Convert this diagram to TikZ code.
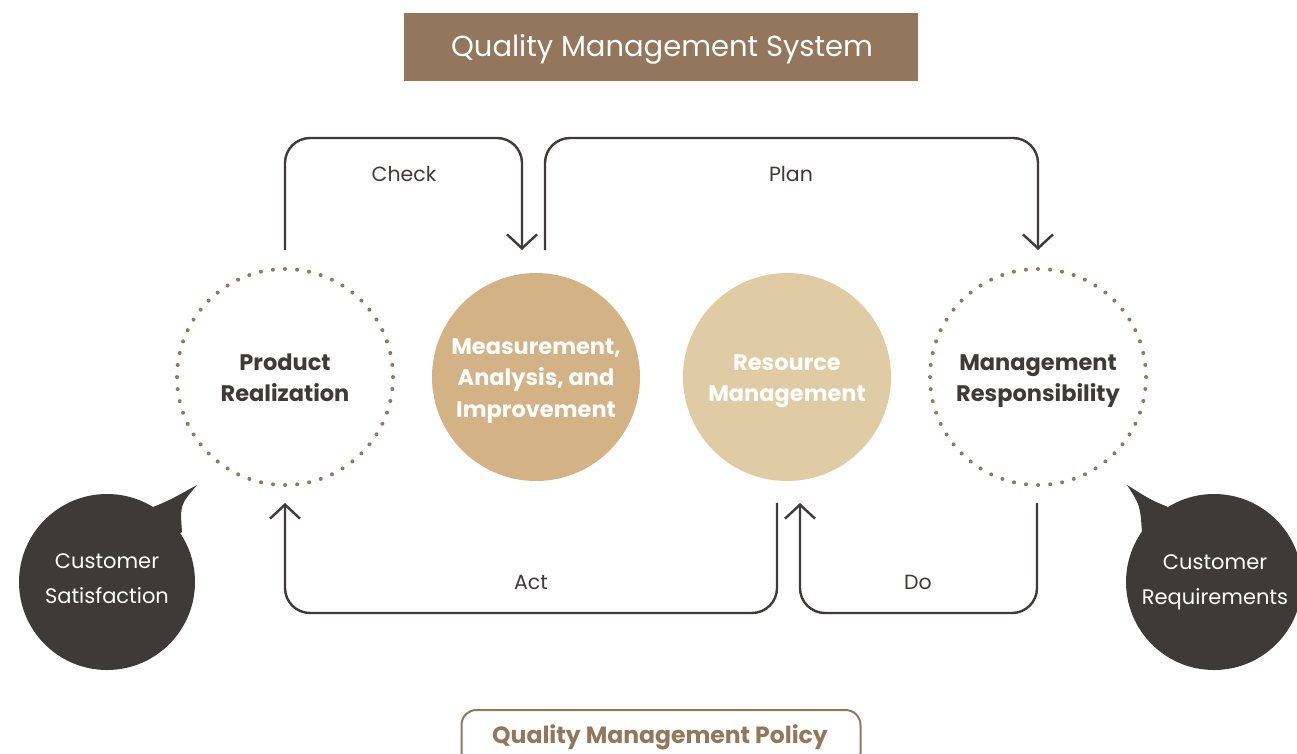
\documentclass[tikz,border=0pt]{standalone}
\usepackage{fontspec}
\setmainfont{Poppins}
\usetikzlibrary{arrows.meta}
\definecolor{brownA}{HTML}{92775C}
\definecolor{darkA}{HTML}{3E3A39}
\definecolor{goldA}{HTML}{D3B385}
\definecolor{goldB}{HTML}{DFCCA5}
\begin{document}
\begin{tikzpicture}[x=1pt,y=-1pt,
  conn/.style={draw=darkA, line width=2.4pt, rounded corners=25pt,
    -{Straight Barb[length=14pt,width=30pt,line width=2.4pt]}},
  lbl/.style={text=darkA, font=\fontsize{20.5}{24}\selectfont},
  dotcirc/.style={circle, minimum size=216pt, draw=brownA, line width=4pt,
    line cap=round, dash pattern=on 0pt off 12.12pt},
  fillcirc/.style={circle, minimum size=208pt},
  ctext/.style={align=center, font=\bfseries\fontsize{22.5}{31.5}\selectfont},
  bubble/.style={circle, fill=darkA, minimum size=176pt},
  btext/.style={align=center, text=white, font=\fontsize{21}{35}\selectfont}]
\useasboundingbox (0,0) rectangle (1297,753);

% title
\node[fill=brownA, minimum width=514pt, minimum height=68pt] (title) at (661,47) {};
\node[text=white, font=\fontsize{29}{34}\selectfont] (titleText) at (662,49) {Quality Management System};

% circles
\node[dotcirc] (pr) at (285,377) {};
\node[fillcirc, fill=goldA] (mai) at (536,377) {};
\node[fillcirc, fill=goldB] (rm) at (787,377) {};
\node[dotcirc] (mr) at (1038,377) {};
\node[ctext, text=darkA] (prT) at (285,378) {Product\\Realization};
\node[ctext, text=white] (maiT) at (536,381) {Measurement,\\Analysis, and\\Improvement};
\node[ctext, text=white] (rmT) at (787,381) {Resource\\Management};
\node[ctext, text=darkA] (mrT) at (1038,381) {Management\\Responsibility};

% speech bubbles
\coordinate (csTip) at (197,485);
\coordinate (crTip) at (1127,485);
\fill[darkA] (153,507) .. controls (170,500) .. (csTip) .. controls (180,505) .. (182,532) -- (170,540) -- cycle;
\fill[darkA] (1168,507) .. controls (1151,500) .. (crTip) .. controls (1140,505) .. (1142,532) -- (1154,540) -- cycle;
\node[bubble] (cs) at (107,582) {};
\node[bubble] (cr) at (1214,582) {};
\node[btext] (csT) at (107,579) {Customer\\Satisfaction};
\node[btext] (crT) at (1215,582) {Customer\\Requirements};

% connector coordinates
\coordinate (top) at (0,138);
\coordinate (bot) at (0,613);
\coordinate (chkS) at (285,250);
\coordinate (chkE) at (522,250);
\coordinate (plnS) at (545,250);
\coordinate (plnE) at (1038,250);
\coordinate (actS) at (777,503);
\coordinate (actE) at (285,503);
\coordinate (doS) at (1037,503);
\coordinate (doE) at (800,503);

\draw[conn] (chkS) -- (chkS |- top) -- (chkE |- top) -- (chkE);
\draw[conn] (plnS) -- (plnS |- top) -- (plnE |- top) -- (plnE);
\draw[conn] (actS) -- (actS |- bot) -- (actE |- bot) -- (actE);
\draw[conn] (doS) -- (doS |- bot) -- (doE |- bot) -- (doE);

\node[lbl] (check) at (404,174) {Check};
\node[lbl] (plan) at (791,174) {Plan};
\node[lbl] (act) at (531,582) {Act};
\node[lbl] (do) at (918,582) {Do};

% policy
\node[draw=brownA, line width=2pt, rounded corners=15pt, minimum width=399pt,
  minimum height=58pt] (policy) at (661,739) {};
\node[text=brownA, font=\bfseries\fontsize{23.5}{27}\selectfont] (policyText) at (660,737) {Quality Management Policy};
\end{tikzpicture}
\end{document}
